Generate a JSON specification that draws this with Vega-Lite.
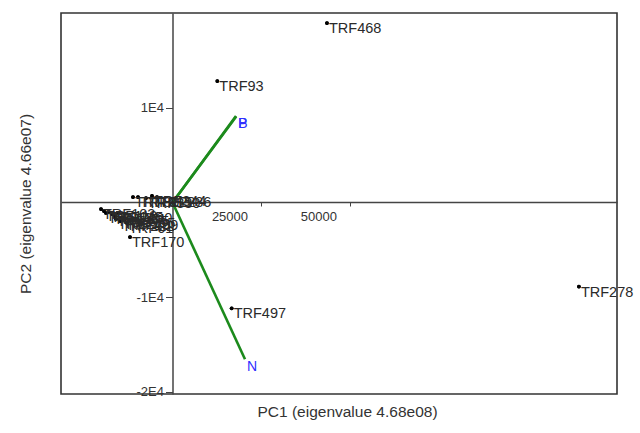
{
  "$schema": "https://vega.github.io/schema/vega-lite/v6.json",
  "width": 556,
  "height": 381,
  "autosize": "none",
  "padding": {"left": 61, "top": 13, "right": 23, "bottom": 39},
  "config": {
    "font": "Liberation Sans",
    "view": {"stroke": "#333333", "strokeWidth": 1.6}
  },
  "datasets": {
    "pts": [
      {"name": "TRF468", "pc1": 43400, "pc2": 18990},
      {"name": "TRF93", "pc1": 12590, "pc2": 12855},
      {"name": "TRF497", "pc1": 16630, "pc2": -11190},
      {"name": "TRF278", "pc1": 114200, "pc2": -8890},
      {"name": "TRF170", "pc1": -11940, "pc2": -3650},
      {"name": "TRF302", "pc1": -11100, "pc2": 580},
      {"name": "TRF315", "pc1": -9690, "pc2": 580},
      {"name": "TRF330", "pc1": -7450, "pc2": 475},
      {"name": "TRF344", "pc1": -5760, "pc2": 690},
      {"name": "TRF286", "pc1": -4360, "pc2": 580},
      {"name": "TRF103", "pc1": -20090, "pc2": -690},
      {"name": "TRF118", "pc1": -19250, "pc2": -900},
      {"name": "TRF131", "pc1": -18690, "pc2": -1110},
      {"name": "TRF145", "pc1": -17850, "pc2": -1010},
      {"name": "TRF461", "pc1": -17000, "pc2": -1220},
      {"name": "TRF175", "pc1": -16160, "pc2": -1430},
      {"name": "TRF190", "pc1": -15320, "pc2": -1110},
      {"name": "TRF205", "pc1": -14470, "pc2": -1640},
      {"name": "TRF159", "pc1": -13630, "pc2": -1850},
      {"name": "TRF61", "pc1": -12790, "pc2": -2170},
      {"name": "TRF222", "pc1": -14750, "pc2": -1960},
      {"name": "TRF240", "pc1": -15880, "pc2": -1750}
    ],
    "vecs": [
      {"var": "P", "pc1": 17840, "pc2": 9150},
      {"var": "B", "pc1": 17900, "pc2": 9100},
      {"var": "N", "pc1": 20370, "pc2": -16590}
    ]
  },
  "layer": [
    {
      "data": {"name": "pts"},
      "mark": {"type": "point", "filled": true, "size": 14, "color": "#000000", "opacity": 1},
      "encoding": {
        "x": {
          "field": "pc1", "type": "quantitative",
          "scale": {"domain": [-31330, 124900], "nice": false, "zero": false},
          "axis": {
            "orient": "bottom", "title": "PC1 (eigenvalue 4.68e08)",
            "labels": false, "ticks": false, "domain": false, "grid": false,
            "titleFontSize": 15.5, "titleFontWeight": "normal", "titleColor": "#333333",
            "titlePadding": 10, "titleX": 286
          }
        },
        "y": {
          "field": "pc2", "type": "quantitative",
          "scale": {"domain": [-20260, 20050], "nice": false, "zero": false},
          "axis": {
            "orient": "left", "title": "PC2 (eigenvalue 4.66e07)",
            "labels": false, "ticks": false, "domain": false, "grid": false,
            "titleFontSize": 15.5, "titleFontWeight": "normal", "titleColor": "#333333",
            "titlePadding": 28
          }
        }
      }
    },
    {
      "data": {"name": "vecs"},
      "mark": {"type": "rule", "color": "#1c8a1c", "strokeWidth": 2.6},
      "encoding": {
        "x": {
          "field": "pc1", "type": "quantitative",
          "axis": {
            "orient": "bottom", "title": null, "offset": -192,
            "values": [25000, 50000], "format": "d", "grid": false,
            "domainColor": "#444444", "domainWidth": 1.5,
            "tickColor": "#444444", "tickSize": 4,
            "labelFontSize": 13, "labelColor": "#333333", "labelPadding": 4,
            "labelOffset": -32
          }
        },
        "y": {
          "field": "pc2", "type": "quantitative",
          "axis": {
            "orient": "left", "title": null, "offset": -111.5,
            "values": [-20000, -10000, 10000],
            "labelExpr": "(datum.value / 10000) + 'E4'", "grid": false,
            "domainColor": "#444444", "domainWidth": 1.5,
            "tickColor": "#444444", "tickSize": 7,
            "labelFontSize": 13, "labelColor": "#333333", "labelPadding": 2
          }
        },
        "x2": {"datum": 0},
        "y2": {"datum": 0}
      }
    },
    {
      "data": {"name": "pts"},
      "mark": {"type": "point", "filled": true, "size": 14, "color": "#000000", "opacity": 1},
      "encoding": {
        "x": {"field": "pc1", "type": "quantitative", "axis": null},
        "y": {"field": "pc2", "type": "quantitative", "axis": null}
      }
    },
    {
      "data": {"name": "pts"},
      "mark": {"type": "text", "align": "left", "baseline": "top", "dx": 2, "dy": -1, "fontSize": 14.5, "color": "#2a2a2a"},
      "encoding": {
        "x": {"field": "pc1", "type": "quantitative", "axis": null},
        "y": {"field": "pc2", "type": "quantitative", "axis": null},
        "text": {"field": "name"}
      }
    },
    {
      "data": {"name": "vecs"},
      "mark": {"type": "text", "align": "left", "baseline": "top", "dx": 2, "dy": 1, "fontSize": 14, "color": "#2f2fff"},
      "encoding": {
        "x": {"field": "pc1", "type": "quantitative", "axis": null},
        "y": {"field": "pc2", "type": "quantitative", "axis": null},
        "text": {"field": "var"}
      }
    }
  ],
  "resolve": {"axis": {"x": "independent", "y": "independent"}}
}
